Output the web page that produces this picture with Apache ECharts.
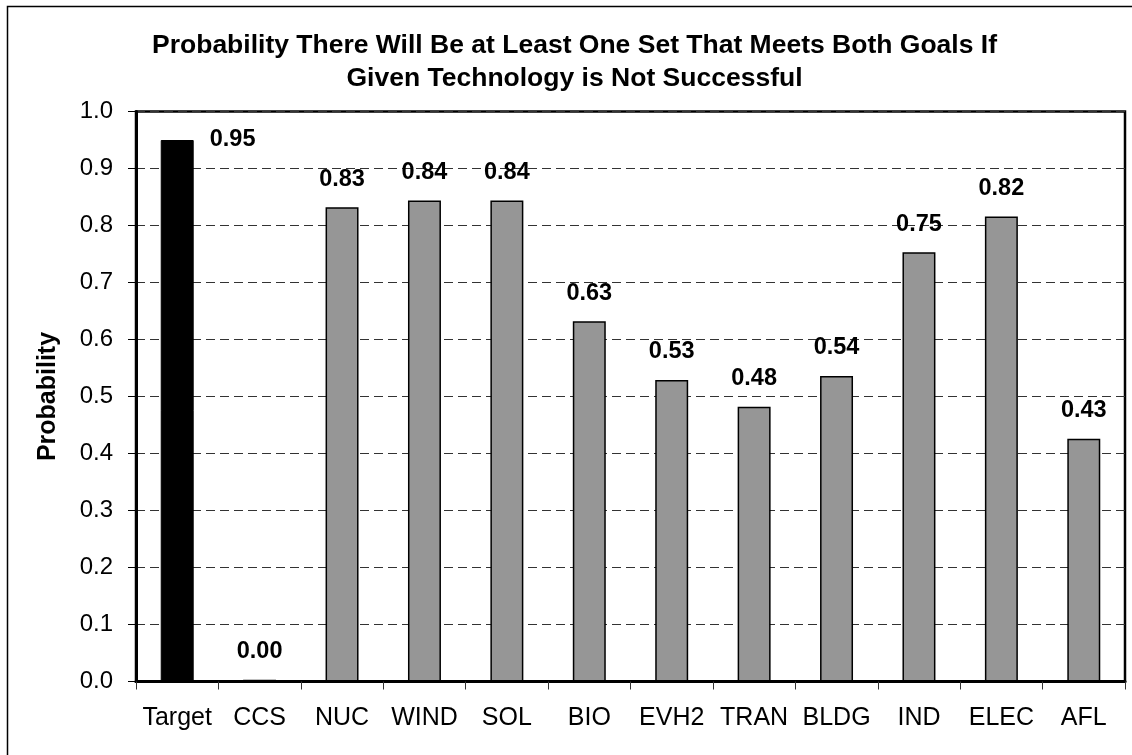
<!DOCTYPE html>
<html>
<head>
<meta charset="utf-8">
<title>Probability by Technology</title>
<script src="https://cdn.jsdelivr.net/npm/echarts@6/dist/echarts.min.js"></script>
<style>
  html, body { margin: 0; padding: 0; background: #fff; }
  #chart { width: 1132px; height: 755px; }
</style>
</head>
<body>
<div id="chart"></div>
<script>
// Categories and probabilities
const categories = ['Target', 'CCS', 'NUC', 'WIND', 'SOL', 'BIO', 'EVH2', 'TRAN', 'BLDG', 'IND', 'ELEC', 'AFL'];
const probabilities = [0.95, 0.003, 0.832, 0.844, 0.844, 0.632, 0.529, 0.482, 0.536, 0.753, 0.816, 0.426];
const yTicks = [0, 0.1, 0.2, 0.3, 0.4, 0.5, 0.6, 0.7, 0.8, 0.9, 1.0];

const titleLines = [
  'Probability There Will Be at Least One Set That Meets Both Goals If',
  'Given Technology is Not Successful'
];
const yAxisName = 'Probability';

const FONT = '"Liberation Sans", Arial, sans-serif';

const barData = probabilities.map((v, i) => {
  const item = { value: v };
  if (i === 0) {
    // reference bar drawn solid black, its label sits beside the top edge
    item.itemStyle = { color: '#000', borderColor: '#000', borderWidth: 1 };
    item.label = { position: [49, 0], align: 'left', verticalAlign: 'middle' };
  }
  return item;
});

const chart = echarts.init(document.getElementById('chart'), null, { renderer: 'canvas' });

chart.setOption({
  animation: false,
  backgroundColor: '#fff',
  graphic: [
    {
      type: 'rect',
      shape: { x: 7.5, y: 6.5, width: 1300, height: 900 },
      style: { fill: 'none', stroke: '#000', lineWidth: 1.5 },
      silent: true,
      z: -1
    },
    {
      type: 'text',
      x: 574.5,
      y: 29,
      style: {
        text: titleLines.join('\n'),
        align: 'center',
        verticalAlign: 'top',
        font: 'bold 26.5px ' + FONT,
        lineHeight: 33,
        fill: '#000'
      }
    }
  ],
  grid: {
    left: 136,
    right: 7,
    top: 111.5,
    bottom: 73.5,
    show: true,
    borderColor: '#000',
    borderWidth: 2.5,
    backgroundColor: 'transparent'
  },
  xAxis: {
    type: 'category',
    data: categories,
    boundaryGap: true,
    axisLine: { show: true, lineStyle: { color: '#000', width: 3 } },
    axisTick: { show: true, alignWithLabel: false, length: 8, lineStyle: { color: '#333', width: 1 } },
    axisLabel: {
      interval: 0,
      margin: 24,
      color: '#000',
      fontFamily: FONT,
      fontSize: 25
    },
    splitLine: { show: false }
  },
  yAxis: {
    type: 'value',
    min: 0,
    max: 1,
    interval: 0.1,
    name: yAxisName,
    nameLocation: 'middle',
    nameRotate: 90,
    nameGap: 75,
    nameTextStyle: { color: '#000', fontFamily: FONT, fontSize: 25, fontWeight: 'bold' },
    axisLine: { show: true, lineStyle: { color: '#000', width: 3 } },
    axisTick: { show: true, inside: false, length: 8, lineStyle: { color: '#000', width: 1 } },
    axisLabel: {
      margin: 23,
      color: '#000',
      fontFamily: FONT,
      fontSize: 24,
      formatter: v => {
        const t = yTicks.find(k => Math.abs(k - v) < 1e-9);
        return (t !== undefined ? t : v).toFixed(1);
      }
    },
    splitLine: { show: true, lineStyle: { color: '#333', width: 1, type: [9, 5] } }
  },
  series: [
    {
      type: 'bar',
      data: barData,
      barWidth: '40%',
      itemStyle: { color: '#969696', borderColor: '#000', borderWidth: 1.5 },
      label: {
        show: true,
        position: 'top',
        distance: 16,
        color: '#000',
        fontFamily: FONT,
        fontSize: 23.5,
        fontWeight: 'bold',
        formatter: p => p.value.toFixed(2)
      },
      z: 3
    }
  ]
});
</script>
</body>
</html>
